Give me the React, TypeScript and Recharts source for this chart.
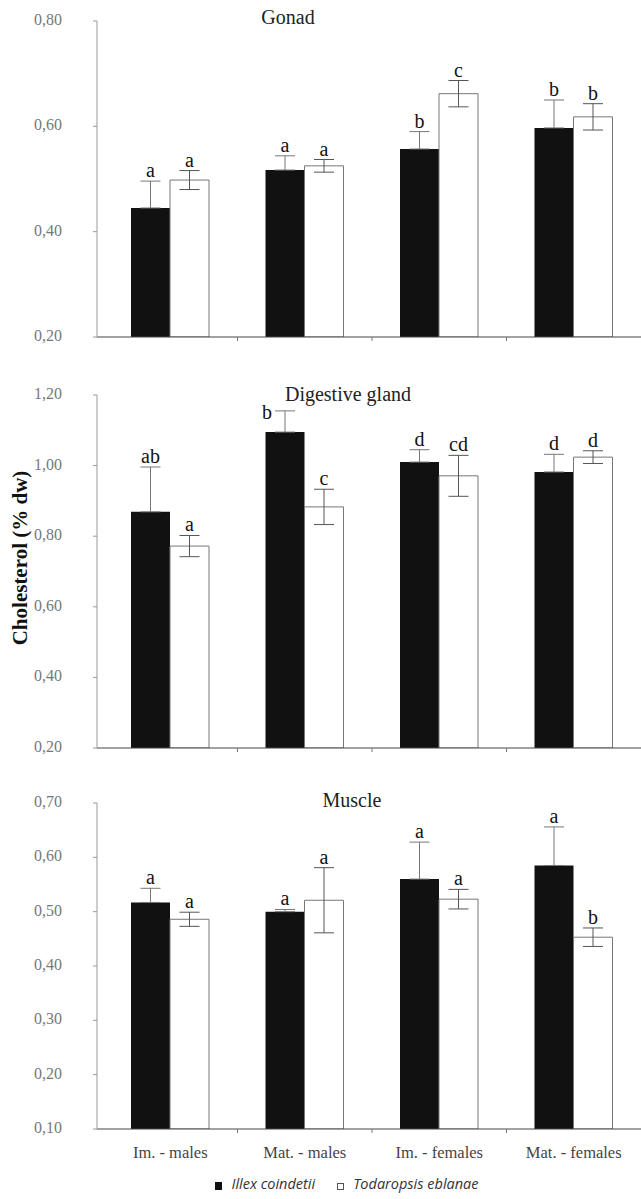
import { BarChart, Bar, XAxis, YAxis, ErrorBar, LabelList, Legend } from "recharts";

const CATEGORIES = ["Im. - males", "Mat. - males", "Im. - females", "Mat. - females"];

const GONAD_ILLEX = [0.445, 0.517, 0.557, 0.597];
const GONAD_ILLEX_ERR = [0.051, 0.027, 0.033, 0.053];
const GONAD_TODARO = [0.498, 0.525, 0.662, 0.618];
const GONAD_TODARO_ERR = [0.018, 0.012, 0.025, 0.025];
const GONAD_ILLEX_LETTERS = ["a", "a", "b", "b"];
const GONAD_TODARO_LETTERS = ["a", "a", "c", "b"];
const GONAD_TICKS = [0.2, 0.4, 0.6, 0.8];

const DIGEST_ILLEX = [0.869, 1.095, 1.01, 0.982];
const DIGEST_ILLEX_ERR = [0.127, 0.06, 0.035, 0.05];
const DIGEST_TODARO = [0.772, 0.883, 0.971, 1.024];
const DIGEST_TODARO_ERR = [0.03, 0.05, 0.058, 0.018];
const DIGEST_ILLEX_LETTERS = ["ab", "b", "d", "d"];
const DIGEST_TODARO_LETTERS = ["a", "c", "cd", "d"];
const DIGEST_TICKS = [0.2, 0.4, 0.6, 0.8, 1.0, 1.2];

const MUSCLE_ILLEX = [0.517, 0.5, 0.56, 0.585];
const MUSCLE_ILLEX_ERR = [0.026, 0.004, 0.068, 0.071];
const MUSCLE_TODARO = [0.486, 0.521, 0.523, 0.453];
const MUSCLE_TODARO_ERR = [0.013, 0.06, 0.018, 0.017];
const MUSCLE_ILLEX_LETTERS = ["a", "a", "a", "a"];
const MUSCLE_TODARO_LETTERS = ["a", "a", "a", "b"];
const MUSCLE_TICKS = [0.1, 0.2, 0.3, 0.4, 0.5, 0.6, 0.7];

const WIDTH = 641;
const PLOT_LEFT = 97;
const PAD_LEFT = 6;
const BAND = (WIDTH - PLOT_LEFT - PAD_LEFT) / 4;
const SERIF = "'Liberation Serif', 'DejaVu Serif', serif";

function buildRows(illex: number[], illexErr: number[], todaro: number[], todaroErr: number[]) {
  return CATEGORIES.map((name, i) => ({
    name,
    illex: illex[i],
    illexErr: [0, illexErr[i]],
    todaro: todaro[i],
    todaroErr: todaroErr[i],
  }));
}

const fmt = (v: number) => v.toFixed(2).replace(".", ",");

function letterLabel(letters: string[], errs: number[], min: number, plotTop: number) {
  return (props: any) => {
    const { x, y, width, height, value, index } = props;
    const k = height / (value - min);
    const top = y - errs[index] * k;
    let tx = x + width / 2;
    let ty = top - 4;
    if (ty - 14 < plotTop) {
      // no room under the panel title: put it beside the cap
      tx = x + width / 2 - 18;
      ty = top + 8;
    }
    return (
      <text x={tx} y={ty} textAnchor="middle" fontFamily={SERIF} fontSize={20} fill="#111">
        {letters[index]}
      </text>
    );
  };
}

function ValueTick(props: any) {
  const { x, y, payload } = props;
  return (
    <text x={x} y={y} dy={4} textAnchor="end" fontFamily={SERIF} fontSize={16} fill="#777">
      {fmt(payload.value)}
    </text>
  );
}

function CategoryTick(props: any) {
  const { x, y, payload, index, showLabel } = props;
  return (
    <g>
      {index < 3 && <line x1={x + BAND / 2} x2={x + BAND / 2} y1={y} y2={y + 4} stroke="#777" />}
      {showLabel && (
        <text x={x} y={y + 29} textAnchor="middle" fontFamily={SERIF} fontSize={16.5} fill="#444">
          {payload.value}
        </text>
      )}
    </g>
  );
}

function LegendContent(props: any) {
  const { payload } = props;
  return (
    <div style={{ display: "flex", justifyContent: "center", paddingLeft: 53, paddingTop: 6 }}>
      {(payload || []).map((entry: any, i: number) => (
        <span
          key={entry.value}
          style={{
            display: "inline-flex",
            alignItems: "flex-end",
            marginLeft: i === 0 ? 0 : 22,
            fontFamily: "'Open Sans', sans-serif",
            fontStyle: "italic",
            fontSize: 14.5,
            lineHeight: "18px",
            color: "#333",
          }}
        >
          <span
            style={{
              display: "inline-block",
              width: i === 0 ? 7 : 5,
              height: i === 0 ? 8 : 5,
              background: i === 0 ? "#111" : "#fff",
              border: i === 0 ? "none" : "1px solid #555",
              marginRight: 9,
              marginBottom: 3,
            }}
          />
          {entry.value}
        </span>
      ))}
    </div>
  );
}

interface PanelProps {
  top: number;
  height: number;
  marginTop: number;
  xAxisHeight: number;
  domain: [number, number];
  ticks: number[];
  illex: number[];
  illexErr: number[];
  todaro: number[];
  todaroErr: number[];
  illexLetters: string[];
  todaroLetters: string[];
  showLabels?: boolean;
  showLegend?: boolean;
}

function Panel(p: PanelProps) {
  const rows = buildRows(p.illex, p.illexErr, p.todaro, p.todaroErr);
  return (
    <div style={{ position: "absolute", left: 0, top: p.top }}>
      <BarChart
        width={WIDTH}
        height={p.height}
        data={rows}
        margin={{ top: p.marginTop, right: 0, left: 0, bottom: 0 }}
        barGap={0}
        barSize={39}
      >
        <XAxis
          dataKey="name"
          height={p.xAxisHeight}
          axisLine={{ stroke: "#444" }}
          tickLine={false}
          tickSize={0}
          tickMargin={0}
          interval={0}
          padding={{ left: PAD_LEFT, right: 0 }}
          tick={<CategoryTick showLabel={!!p.showLabels} />}
        />
        <YAxis
          type="number"
          width={PLOT_LEFT}
          domain={p.domain}
          ticks={p.ticks}
          interval={0}
          allowDataOverflow
          axisLine={{ stroke: "#999" }}
          tickLine={{ stroke: "#999" }}
          tickSize={4}
          tickMargin={31}
          tick={<ValueTick />}
        />
        {p.showLegend && <Legend verticalAlign="bottom" height={30} content={<LegendContent />} />}
        <Bar dataKey="illex" name="Illex coindetii" fill="#111" isAnimationActive={false}>
          <ErrorBar dataKey="illexErr" width={10} stroke="#777" strokeWidth={1} />
          <LabelList
            dataKey="illex"
            content={letterLabel(p.illexLetters, p.illexErr, p.domain[0], p.marginTop)}
          />
        </Bar>
        <Bar dataKey="todaro" name="Todaropsis eblanae" fill="#fff" stroke="#777" strokeWidth={1} isAnimationActive={false}>
          <ErrorBar dataKey="todaroErr" width={10} stroke="#555" strokeWidth={1} />
          <LabelList
            dataKey="todaro"
            content={letterLabel(p.todaroLetters, p.todaroErr, p.domain[0], p.marginTop)}
          />
        </Bar>
      </BarChart>
    </div>
  );
}

const titleStyle = (left: number, top: number): React.CSSProperties => ({
  position: "absolute",
  left,
  top,
  transform: "translateX(-50%)",
  fontFamily: SERIF,
  fontSize: 20,
  lineHeight: "20px",
  color: "#222",
  whiteSpace: "nowrap",
});

export default function App() {
  return (
    <div style={{ position: "absolute", left: 0, top: 0, width: WIDTH, height: 1199, background: "#fff" }}>
      <Panel
        top={0}
        height={350}
        marginTop={21}
        xAxisHeight={13}
        domain={[0.2, 0.8]}
        ticks={GONAD_TICKS}
        illex={GONAD_ILLEX}
        illexErr={GONAD_ILLEX_ERR}
        todaro={GONAD_TODARO}
        todaroErr={GONAD_TODARO_ERR}
        illexLetters={GONAD_ILLEX_LETTERS}
        todaroLetters={GONAD_TODARO_LETTERS}
      />
      <Panel
        top={380}
        height={381}
        marginTop={15}
        xAxisHeight={13}
        domain={[0.2, 1.2]}
        ticks={DIGEST_TICKS}
        illex={DIGEST_ILLEX}
        illexErr={DIGEST_ILLEX_ERR}
        todaro={DIGEST_TODARO}
        todaroErr={DIGEST_TODARO_ERR}
        illexLetters={DIGEST_ILLEX_LETTERS}
        todaroLetters={DIGEST_TODARO_LETTERS}
      />
      <Panel
        top={790}
        height={409}
        marginTop={13}
        xAxisHeight={40}
        domain={[0.1, 0.7]}
        ticks={MUSCLE_TICKS}
        illex={MUSCLE_ILLEX}
        illexErr={MUSCLE_ILLEX_ERR}
        todaro={MUSCLE_TODARO}
        todaroErr={MUSCLE_TODARO_ERR}
        illexLetters={MUSCLE_ILLEX_LETTERS}
        todaroLetters={MUSCLE_TODARO_LETTERS}
        showLabels
        showLegend
      />
      <div style={titleStyle(288, 7)}>Gonad</div>
      <div style={titleStyle(348, 384)}>Digestive gland</div>
      <div style={titleStyle(352, 790)}>Muscle</div>
      <div
        style={{
          position: "absolute",
          left: 20,
          top: 558,
          transform: "translate(-50%, -50%) rotate(-90deg)",
          fontFamily: SERIF,
          fontWeight: "bold",
          fontSize: 21,
          whiteSpace: "nowrap",
          color: "#111",
        }}
      >
        Cholesterol (% dw)
      </div>
    </div>
  );
}
